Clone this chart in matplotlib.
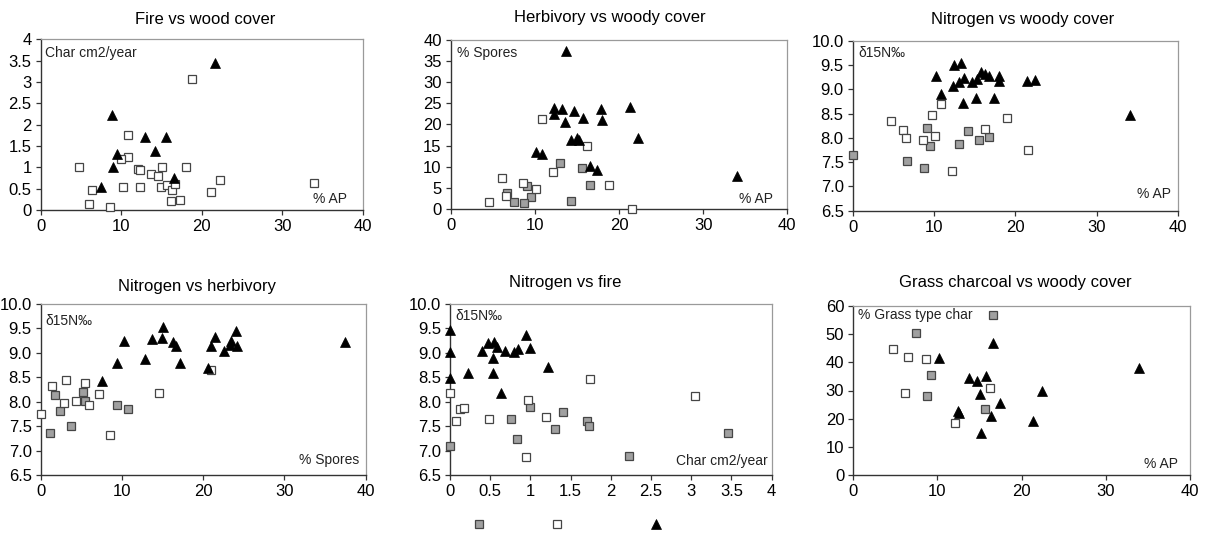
import matplotlib

matplotlib.use("Agg")
import matplotlib.pyplot as plt
import matplotlib.ticker as ticker
from matplotlib import font_manager
from matplotlib.lines import Line2D

# --- data ---------------------------------------------------------------
# grey = grey squares, open = white squares, tri = black triangles

# Fire vs wood cover (x: % AP, y: char cm2/year)
fire_open_x = [4.7, 6.4, 6.0, 8.6, 10.8, 10.8, 10.0, 10.2, 12.1, 12.3, 12.3, 13.7, 14.6,
               15.1, 15.0, 15.7, 16.3, 16.7, 16.2, 17.3, 18.0, 18.8, 21.2, 22.3, 33.9]
fire_open_y = [1.0, 0.48, 0.14, 0.08, 1.75, 1.25, 1.19, 0.55, 0.97, 0.93, 0.55, 0.85, 0.8,
               1.0, 0.55, 0.58, 0.48, 0.61, 0.2, 0.23, 1.0, 3.08, 0.43, 0.7, 0.63]
fire_tri_x = [21.7, 8.8, 12.9, 15.6, 9.5, 14.2, 9.0, 16.6, 7.5]
fire_tri_y = [3.45, 2.23, 1.72, 1.72, 1.31, 1.39, 1.0, 0.76, 0.53]

# Herbivory vs woody cover (x: % AP, y: % spores)
herb_grey_x = [13.0, 15.6, 16.6, 9.1, 9.5, 6.7, 7.5, 8.7, 14.3]
herb_grey_y = [10.9, 9.6, 5.6, 5.5, 2.8, 3.9, 1.7, 1.5, 1.9]
herb_open_x = [10.9, 16.2, 12.1, 18.8, 6.1, 8.6, 10.1, 6.6, 4.6, 21.5]
herb_open_y = [21.2, 14.8, 8.8, 5.6, 7.4, 6.2, 4.7, 3.1, 1.7, 0.1]
herb_tri_x = [13.7, 12.3, 13.2, 12.3, 14.6, 17.9, 21.3, 13.6, 15.7, 18.0, 22.3, 14.3, 15.0,
              15.2, 10.1, 10.8, 16.6, 17.4, 34.0]
herb_tri_y = [37.5, 23.9, 23.7, 22.6, 23.2, 23.6, 24.2, 20.5, 21.5, 21.1, 16.8, 16.3, 16.9,
              16.3, 13.6, 12.9, 10.2, 9.3, 7.8]

# Nitrogen vs woody cover (x: % AP, y: d15N)
nwood_grey_x = [9.1, 9.5, 6.7, 8.8, 0.0, 13.0, 14.2, 15.5, 16.7]
nwood_grey_y = [8.21, 7.83, 7.52, 7.37, 7.65, 7.87, 8.15, 7.95, 8.02]
nwood_open_x = [10.9, 9.7, 4.7, 6.2, 6.6, 10.1, 8.6, 12.2, 16.2, 18.9, 21.5]
nwood_open_y = [8.69, 8.47, 8.34, 8.16, 8.0, 8.03, 7.95, 7.32, 8.19, 8.40, 7.76]
nwood_tri_x = [10.2, 12.4, 13.3, 10.8, 12.3, 13.1, 13.7, 14.6, 15.3, 15.8, 16.3, 16.7, 18.0,
               18.0, 13.6, 15.1, 17.4, 21.4, 22.4, 34.1]
nwood_tri_y = [9.28, 9.49, 9.55, 8.90, 9.07, 9.16, 9.24, 9.16, 9.21, 9.35, 9.32, 9.27, 9.27,
               9.18, 8.72, 8.82, 8.82, 9.18, 9.19, 8.46]

# Nitrogen vs herbivory (x: % spores, y: d15N)
nherb_grey_x = [1.7, 2.4, 1.1, 3.7, 5.2, 5.5, 9.4, 10.7]
nherb_grey_y = [8.13, 7.81, 7.35, 7.51, 8.19, 8.01, 7.94, 7.85]
nherb_open_x = [20.9, 0.0, 1.4, 3.1, 2.9, 4.4, 5.4, 5.9, 7.2, 8.5, 14.5]
nherb_open_y = [8.65, 7.75, 8.32, 8.44, 7.98, 8.02, 8.38, 7.93, 8.15, 7.31, 8.17]
nherb_tri_x = [37.5, 15.1, 10.2, 13.7, 14.9, 16.3, 16.7, 17.2, 12.8, 9.4, 7.6, 21.4, 20.9,
               20.6, 24.0, 22.6, 23.3, 23.4, 24.1]
nherb_tri_y = [9.22, 9.52, 9.25, 9.28, 9.30, 9.23, 9.15, 8.80, 8.88, 8.80, 8.42, 9.33, 9.15,
               8.70, 9.45, 9.04, 9.16, 9.25, 9.14]

# Nitrogen vs fire (x: char cm2/year, y: d15N)
nfire_grey_x = [0.0, 0.76, 0.83, 1.0, 1.31, 1.40, 1.70, 1.73, 2.22, 3.46]
nfire_grey_y = [7.10, 7.66, 7.25, 7.89, 7.44, 7.80, 7.60, 7.51, 6.90, 7.37]
nfire_open_x = [0.0, 0.12, 0.18, 0.07, 0.48, 0.97, 0.95, 1.19, 1.74, 3.05]
nfire_open_y = [8.19, 7.85, 7.88, 7.60, 7.66, 8.04, 6.87, 7.69, 8.46, 8.12]
nfire_tri_x = [0.0, 0.0, 0.0, 0.23, 0.40, 0.47, 0.55, 0.58, 0.54, 0.54, 0.63, 0.68, 0.80,
               0.84, 0.94, 0.99, 1.22]
nfire_tri_y = [9.47, 9.01, 8.49, 8.60, 9.03, 9.20, 9.23, 9.13, 8.89, 8.60, 8.19, 9.03, 9.01,
               9.08, 9.37, 9.11, 8.71]

# Grass charcoal vs woody cover (x: % AP, y: % grass type char)
grass_grey_x = [16.6, 7.5, 9.2, 8.8, 15.6]
grass_grey_y = [56.8, 50.3, 35.5, 28.0, 23.6]
grass_open_x = [4.75, 6.5, 8.6, 6.1, 16.2, 12.1]
grass_open_y = [44.7, 41.8, 41.1, 29.2, 31.0, 18.3]
grass_tri_x = [10.2, 16.6, 34.0, 13.7, 14.7, 15.8, 15.1, 22.4, 17.4, 12.4, 12.5, 16.4, 21.4, 15.2]
grass_tri_y = [41.4, 46.7, 37.9, 34.3, 33.4, 35.1, 28.8, 29.8, 25.4, 22.6, 21.9, 20.9, 19.1, 14.8]

titles = ["Fire vs wood cover", "Herbivory vs woody cover", "Nitrogen vs woody cover",
          "Nitrogen vs herbivory", "Nitrogen vs fire", "Grass charcoal vs woody cover"]
ylabels = ["Char cm2/year", "% Spores", "δ15N‰", "δ15N‰", "δ15N‰", "% Grass type char"]
xlabels = ["% AP", "% AP", "% AP", "% Spores", "Char cm2/year", "% AP"]

# --- style ----------------------------------------------------------------
available = {f.name for f in font_manager.fontManager.ttflist}
TICK_FAMILY = ["Liberation Sans Narrow" if "Liberation Sans Narrow" in available else "Liberation Sans",
               "DejaVu Sans"]
plt.rcParams["font.family"] = ["Liberation Sans", "DejaVu Sans"]

GREY_STYLE = dict(marker="s", ms=5.6, mfc="#a0a0a0", mec="#454545", mew=0.9, ls="none")
OPEN_STYLE = dict(marker="s", ms=5.6, mfc="white", mec="#454545", mew=0.9, ls="none")
TRI_STYLE = dict(marker="^", ms=6.8, mfc="black", mec="black", mew=0.5, ls="none")

W, H = 1208, 536


def px_axes(fig, left, top, right, bottom):
    return fig.add_axes([left / W, 1 - bottom / H, (right - left) / W, (bottom - top) / H])


def style_axes(ax, xlim, ylim, xstep, ystep, yfmt):
    ax.set_xlim(*xlim)
    ax.set_ylim(*ylim)
    ax.xaxis.set_major_locator(ticker.MultipleLocator(xstep))
    ax.yaxis.set_major_locator(ticker.MultipleLocator(ystep))
    ax.yaxis.set_major_formatter(ticker.FormatStrFormatter(yfmt) if yfmt else ticker.FuncFormatter(lambda v, p: f"{v:g}"))
    ax.xaxis.set_major_formatter(ticker.FuncFormatter(lambda v, p: f"{v:g}"))
    for side in ("top", "right"):
        ax.spines[side].set_color("#9a9a9a")
        ax.spines[side].set_linewidth(0.9)
    for side in ("left", "bottom"):
        ax.spines[side].set_color("#333333")
        ax.spines[side].set_linewidth(1.0)
    ax.tick_params(direction="out", length=3.5, width=0.9, color="#333333", labelsize=12, pad=3)
    for lab in ax.get_xticklabels() + ax.get_yticklabels():
        lab.set_family(TICK_FAMILY)


def draw(ax, grey, opn, tri):
    if grey:
        ax.plot(grey[0], grey[1], clip_on=False, zorder=3, **GREY_STYLE)
    ax.plot(opn[0], opn[1], clip_on=False, zorder=3, **OPEN_STYLE)
    ax.plot(tri[0], tri[1], clip_on=False, zorder=4, **TRI_STYLE)


fig = plt.figure(figsize=(W / 100, H / 100), dpi=100, facecolor="white")

# pixel boxes of the six plotting areas
boxes = [(40.7, 39.3, 362.7, 210), (450.7, 40, 787.3, 209), (852.7, 40.7, 1178.3, 210.7),
         (40.7, 304, 365.7, 475), (450, 304, 771.7, 475.3), (853.3, 306, 1190, 475)]
limits = [((0, 40), (0, 4), 10, 0.5, None), ((0, 40), (0, 40), 10, 5, None),
          ((0, 40), (6.5, 10), 10, 0.5, "%.1f"), ((0, 40), (6.5, 10), 10, 0.5, "%.1f"),
          ((0, 4), (6.5, 10), 0.5, 0.5, "%.1f"), ((0, 40), (0, 60), 10, 10, None)]
series = [
    (None, (fire_open_x, fire_open_y), (fire_tri_x, fire_tri_y)),
    ((herb_grey_x, herb_grey_y), (herb_open_x, herb_open_y), (herb_tri_x, herb_tri_y)),
    ((nwood_grey_x, nwood_grey_y), (nwood_open_x, nwood_open_y), (nwood_tri_x, nwood_tri_y)),
    ((nherb_grey_x, nherb_grey_y), (nherb_open_x, nherb_open_y), (nherb_tri_x, nherb_tri_y)),
    ((nfire_grey_x, nfire_grey_y), (nfire_open_x, nfire_open_y), (nfire_tri_x, nfire_tri_y)),
    ((grass_grey_x, grass_grey_y), (grass_open_x, grass_open_y), (grass_tri_x, grass_tri_y)),
]
title_x = [0.512, 0.473, 0.521, 0.481, 0.357, 0.482]
title_pad = [11, 13, 12, 9, 12, 14]
ylab_pos = [(0.013, 0.92), (0.02, 0.925), (0.017, 0.926), (0.015, 0.902), (0.016, 0.932), (0.015, 0.947)]
xlab_pos = [(0.950, 0.063), (0.957, 0.061), (0.977, 0.098), (0.980, 0.088), (0.988, 0.085), (0.965, 0.063)]

for i in range(6):
    ax = px_axes(fig, *boxes[i])
    style_axes(ax, *limits[i])
    draw(ax, *series[i])
    ax.set_title(titles[i], fontsize=12, x=title_x[i], pad=title_pad[i])
    ax.text(*ylab_pos[i], ylabels[i], transform=ax.transAxes, fontsize=10,
            ha="left", va="center", color="#222222")
    ax.text(*xlab_pos[i], xlabels[i], transform=ax.transAxes, fontsize=10,
            ha="right", va="center", color="#222222")

# legend symbols below the middle bottom panel (labels cropped in the source)
handles = [Line2D([], [], **GREY_STYLE), Line2D([], [], **OPEN_STYLE), Line2D([], [], **TRI_STYLE)]
for h, xp in zip(handles, [479, 557, 656]):
    fig.legend([h], [""], loc="center", bbox_to_anchor=(xp / W, 1 - 525 / H), frameon=False,
               handlelength=1.0, handletextpad=0, borderpad=0, borderaxespad=0)

fig.savefig("out.png", dpi=100, facecolor="white")
